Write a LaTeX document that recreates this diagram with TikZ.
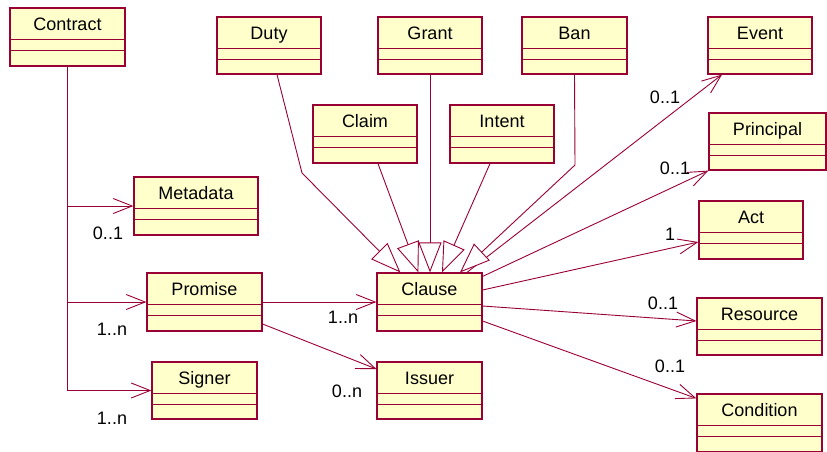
\documentclass[tikz,border=0pt]{standalone}
\usepackage{fontspec}
\setmainfont{Liberation Sans}
\usetikzlibrary{arrows.meta,fit,calc}
\definecolor{umlfill}{RGB}{255,255,204}
\definecolor{umlline}{RGB}{153,0,51}
\tikzset{
  cls/.style={draw=umlline, fill=umlfill, line width=1.2pt, inner sep=0pt, rectangle},
  sepline/.style={draw=umlline, line width=1pt},
  clstext/.style={font=\fontsize{18}{22}\selectfont, inner sep=0pt, anchor=base},
  mult/.style={font=\fontsize{18}{22}\selectfont, inner sep=0pt},
  assoc/.style={draw=umlline, line width=0.9pt, -{Straight Barb[length=19pt,width=15pt,line width=0.9pt]}},
  gen/.style={draw=umlline, line width=0.9pt, -{Triangle[open,length=30pt,width=23pt,line width=0.9pt,fill=white]}},
}
\newcommand\umlcls[6]{%
  \node[cls, fit={(#2,#3) (#4,#5)}] (#1) {};
  \draw[sepline] ($(#1.north west)+(0,32)$) -- ($(#1.north east)+(0,32)$);
  \draw[sepline] ($(#1.north west)+(0,43)$) -- ($(#1.north east)+(0,43)$);
  \node[clstext] (#1-name) at ($(#1.north)+(0,23)$) {#6};
}
\begin{document}
\begin{tikzpicture}[x=1pt,y=-1pt]
\useasboundingbox (0,0) rectangle (827,451);
\umlcls{contract}{10}{8}{125}{66}{Contract}
\umlcls{duty}{217}{17}{321}{74}{Duty}
\umlcls{grant}{378}{17}{482}{74}{Grant}
\umlcls{ban}{522}{17}{627}{74}{Ban}
\umlcls{event}{708}{17}{812}{74}{Event}
\umlcls{claim}{313}{105}{417}{163}{Claim}
\umlcls{intent}{450}{105}{554}{163}{Intent}
\umlcls{principal}{709}{113}{826}{170}{Principal}
\umlcls{act}{699}{201}{803}{259}{Act}
\umlcls{metadata}{134}{177}{258}{235}{Metadata}
\umlcls{promise}{147}{273}{262}{331}{Promise}
\umlcls{signer}{152}{362}{257}{419}{Signer}
\umlcls{clause}{377}{273}{482}{331}{Clause}
\umlcls{issuer}{377}{362}{482}{419}{Issuer}
\umlcls{resource}{697}{298}{822}{355}{Resource}
\umlcls{condition}{697}{394}{822}{452}{Condition}

% Contract associations
\draw[assoc] (contract.south) |- (metadata.west);
\draw[assoc] (contract.south) |- (promise.west);
\draw[assoc] (contract.south) |- (signer.west);
% Promise associations
\draw[assoc] (promise.east) -- (clause.west);
\draw[assoc] ([yshift=-22pt]promise.east) -- ([yshift=21.5pt]issuer.west);
% Clause associations
\draw[assoc] ([xshift=37.5pt]clause.north) -- ([xshift=-38pt]event.south);
\draw[assoc] ([yshift=-4pt]clause.north east) -- (principal.south west);
\draw[assoc] ([yshift=12pt]clause.east) -- ([yshift=-12pt]act.west);
\draw[assoc] ([yshift=-4pt]clause.east) -- ([yshift=5.5pt]resource.west);
\draw[assoc] ([yshift=-19pt]clause.east) -- ([yshift=-5pt]condition.north west);
% Generalizations
\coordinate (dutybend) at (302,173);
\coordinate (banbend) at (575,165);
\draw[gen] ([xshift=8pt]duty.south) -- (dutybend) -- ([xshift=24pt]clause.north west);
\draw[gen] ([xshift=13pt]claim.south) -- ([xshift=42pt]clause.north west);
\draw[gen] (grant.south) -- (grant.south |- clause.north);
\draw[gen] ([xshift=-12pt]intent.south) -- ([xshift=12.5pt]clause.north);
\draw[gen] (ban.south) -- (banbend) -- ([xshift=30.5pt]clause.north);

% Multiplicities
\node[mult] (m-meta) at (108,233) {0..1};
\node[mult] (m-prom) at (112,329) {1..n};
\node[mult] (m-sign) at (112,418) {1..n};
\node[mult] (m-clause) at (343,317) {1..n};
\node[mult] (m-issuer) at (347,391) {0..n};
\node[mult] (m-event) at (665,97) {0..1};
\node[mult] (m-princ) at (675,168) {0..1};
\node[mult] (m-act) at (670,234) {1};
\node[mult] (m-res) at (663,303) {0..1};
\node[mult] (m-cond) at (670,366) {0..1};
\end{tikzpicture}
\end{document}
